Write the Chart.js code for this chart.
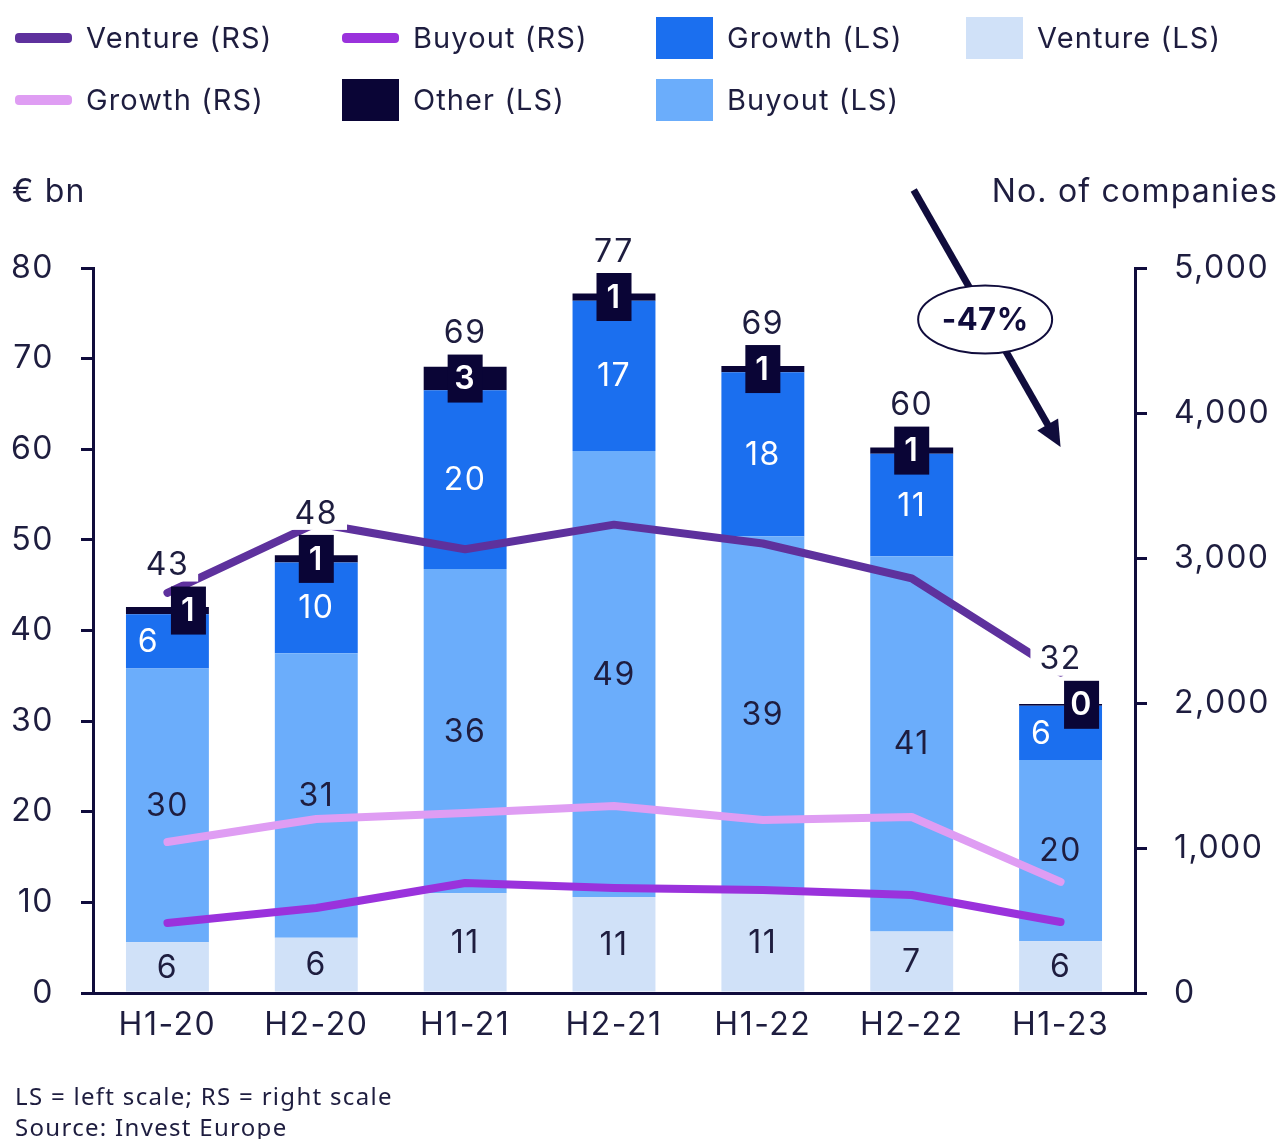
<!DOCTYPE html>
<html>
<head>
<meta charset="utf-8">
<script src="https://cdn.jsdelivr.net/npm/chart.js@4.4.1/dist/chart.umd.min.js"></script>
<style>
  html, body { margin: 0; padding: 0; background: #fff; }
  #wrap { position: relative; width: 1282px; height: 1139px; overflow: hidden;
          font-family: Inter, "Noto Sans", sans-serif; color: #1e1d3f; }
  #chart { position: absolute; left: 0; top: 0; }
  .txt { position: absolute; white-space: nowrap; line-height: 1; letter-spacing: 1.2px; }
  .lg-item { position: absolute; height: 44px; display: flex; align-items: center; }
  .lg-sw { position: absolute; left: 0; }
  .lg-label { position: absolute; left: 71px; font-size: 29px; letter-spacing: 1.1px; white-space: nowrap; line-height: 1; }
  .foot { position: absolute; left: 15px; font-family: "Noto Sans", sans-serif; font-size: 24px;
          letter-spacing: 1.3px; white-space: nowrap; line-height: 1; }
</style>
</head>
<body>
<div id="wrap">
  <canvas id="chart" width="1282" height="1139"></canvas>
  <div id="legend"></div>
  <div class="txt" style="left:12px; top:175px; font-size:32px;">€ bn</div>
  <div class="txt" style="right:4px; top:175px; font-size:32px;">No. of companies</div>
  <div class="foot" style="top:1084px;">LS = left scale; RS = right scale</div>
  <div class="foot" style="top:1115px;">Source: Invest Europe</div>
</div>
<script>
// Half-year periods
const categories = ['H1-20', 'H2-20', 'H1-21', 'H2-21', 'H1-22', 'H2-22', 'H1-23'];

// Amount invested, € bn (left scale)
const ventureLS = [5.6, 6.1, 11.0, 10.6, 11.0, 6.8, 5.7];
const buyoutLS  = [30.2, 31.4, 35.8, 49.2, 39.4, 41.4, 20.0];
const growthLS  = [6.0, 10.0, 19.7, 16.6, 18.1, 11.3, 6.0];
const otherLS   = [0.8, 0.8, 2.6, 0.8, 0.7, 0.7, 0.2];

// Number of companies (right scale)
const ventureRS = [2760, 3240, 3060, 3230, 3100, 2860, 2210];
const buyoutRS  = [483, 586, 759, 724, 710, 676, 490];
const growthRS  = [1041, 1200, 1241, 1290, 1193, 1214, 766];

// Axis ranges
const leftMax = 80, leftStep = 10;
const rightMax = 5000, rightStep = 1000;

// Change in total amount, last two periods
const changeLabel = '-47%';

const NAVY = '#100c3c';
const TEXT = '#1e1d3f';
const FONT = 'Inter, "Noto Sans", sans-serif';
const SPACING = '1.5px';
const FS = 32;

const C = {
  ventureRS: '#5e319d',
  buyoutRS: '#9a32dc',
  growthRS: '#df9df3',
  growthLS: '#1b6fef',
  buyoutLS: '#6badfb',
  ventureLS: '#d0e1f8',
  otherLS: '#0a0536'
};

Chart.defaults.font.family = FONT;
Chart.defaults.font.size = FS;
Chart.defaults.color = TEXT;

const lineDs = (label, data, color) => ({
  type: 'line', label, data, yAxisID: 'y1', order: 0,
  borderColor: color, backgroundColor: color, borderWidth: 8,
  pointRadius: 0, tension: 0, borderCapStyle: 'round', borderJoinStyle: 'round',
  legendKind: 'line'
});
const barDs = (label, data, color) => ({
  type: 'bar', label, data, yAxisID: 'y', order: 1, stack: 'total',
  backgroundColor: color, borderWidth: 0,
  categoryPercentage: 1, barPercentage: 0.557,
  legendKind: 'box'
});

const datasets = [
  lineDs('Venture (RS)', ventureRS, C.ventureRS),
  lineDs('Buyout (RS)', buyoutRS, C.buyoutRS),
  lineDs('Growth (RS)', growthRS, C.growthRS),
  barDs('Venture (LS)', ventureLS, C.ventureLS),
  barDs('Buyout (LS)', buyoutLS, C.buyoutLS),
  barDs('Growth (LS)', growthLS, C.growthLS),
  barDs('Other (LS)', otherLS, C.otherLS)
];

// Letter spacing applied to all canvas text
const spacingPlugin = {
  id: 'spacing',
  beforeInit(chart) { chart.ctx.letterSpacing = SPACING; },
  beforeUpdate(chart) { chart.ctx.letterSpacing = SPACING; },
  beforeDraw(chart) { chart.ctx.letterSpacing = SPACING; }
};

// Segment values, boxed "Other" values and stack totals
const labelPlugin = {
  id: 'segmentLabels',
  afterDatasetsDraw(chart) {
    const ctx = chart.ctx;
    const idx = name => chart.data.datasets.findIndex(d => d.label === name);
    const mV = chart.getDatasetMeta(idx('Venture (LS)'));
    const mB = chart.getDatasetMeta(idx('Buyout (LS)'));
    const mG = chart.getDatasetMeta(idx('Growth (LS)'));
    const mO = chart.getDatasetMeta(idx('Other (LS)'));
    const half = 14, boxW = 35, boxH = 48;
    ctx.save();
    ctx.letterSpacing = SPACING;
    ctx.textAlign = 'center';
    ctx.textBaseline = 'middle';
    categories.forEach((_, i) => {
      const v = mV.data[i], b = mB.data[i], g = mG.data[i], o = mO.data[i];
      ctx.font = `400 ${FS}px ${FONT}`;
      ctx.fillStyle = TEXT;
      ctx.fillText(String(Math.round(ventureLS[i])), v.x, (v.y + v.base) / 2 + 1);
      ctx.fillText(String(Math.round(buyoutLS[i])), b.x, (b.y + b.base) / 2 + 1);

      const gy = (g.y + g.base) / 2;
      const oy = (o.y + o.base) / 2;
      const crowded = oy + boxH / 2 > gy - half - 2;
      const gx = crowded ? g.x - 19 : g.x;
      const ox = crowded ? o.x + 21 : o.x;
      ctx.fillStyle = '#ffffff';
      ctx.fillText(String(Math.round(growthLS[i])), gx, gy + 1);

      ctx.fillStyle = C.otherLS;
      ctx.fillRect(ox - boxW / 2, oy - boxH / 2, boxW, boxH);
      ctx.font = `600 ${FS}px ${FONT}`;
      ctx.fillStyle = '#ffffff';
      ctx.fillText(String(Math.round(otherLS[i])), ox, oy + 1);

      const total = ventureLS[i] + buyoutLS[i] + growthLS[i] + otherLS[i];
      const t = String(Math.round(total));
      ctx.font = `400 ${FS}px ${FONT}`;
      const w = ctx.measureText(t).width + 18;
      const ty = oy - 46;
      ctx.fillStyle = '#ffffff';
      ctx.fillRect(o.x - w / 2, ty - 16, w, 33);
      ctx.fillStyle = TEXT;
      ctx.fillText(t, o.x, ty + 1);
    });
    ctx.restore();
  }
};

// Downward arrow with the change badge between the last two periods
const arrowPlugin = {
  id: 'changeArrow',
  afterDraw(chart) {
    const ctx = chart.ctx;
    const xs = chart.scales.x;
    const top = chart.chartArea.top;
    const x0 = xs.getPixelForValue(categories.length - 2) + 2;
    const y0 = top - 78;
    const x1 = xs.getPixelForValue(categories.length - 1);
    const y1 = top + 179;
    const ang = Math.atan2(y1 - y0, x1 - x0);
    const head = 26, hw = 12;
    const bx = x1 - head * Math.cos(ang), by = y1 - head * Math.sin(ang);
    ctx.save();
    ctx.strokeStyle = NAVY;
    ctx.fillStyle = NAVY;
    ctx.lineWidth = 7;
    ctx.beginPath();
    ctx.moveTo(x0, y0);
    ctx.lineTo(bx + 2 * Math.cos(ang), by + 2 * Math.sin(ang));
    ctx.stroke();
    ctx.beginPath();
    ctx.moveTo(x1, y1);
    ctx.lineTo(bx + hw * Math.sin(ang), by - hw * Math.cos(ang));
    ctx.lineTo(bx - hw * Math.sin(ang), by + hw * Math.cos(ang));
    ctx.closePath();
    ctx.fill();

    const cx = (x0 + x1) / 2 - 2, cy = (y0 + y1) / 2 + 1;
    ctx.beginPath();
    ctx.ellipse(cx, cy, 67, 34, 0, 0, Math.PI * 2);
    ctx.fillStyle = '#ffffff';
    ctx.fill();
    ctx.lineWidth = 2;
    ctx.stroke();
    ctx.fillStyle = NAVY;
    ctx.font = `700 31px ${FONT}`;
    ctx.letterSpacing = '0.5px';
    ctx.textAlign = 'center';
    ctx.textBaseline = 'middle';
    ctx.fillText(changeLabel, cx, cy + 1);
    ctx.restore();
  }
};

const chart = new Chart(document.getElementById('chart'), {
  data: { labels: categories, datasets },
  options: {
    responsive: false,
    animation: false,
    devicePixelRatio: 1,
    layout: { padding: { top: 268, left: 0, right: 0, bottom: 0 } },
    plugins: { legend: { display: false }, tooltip: { enabled: false } },
    scales: {
      x: {
        stacked: true,
        offset: true,
        grid: { display: false, drawTicks: false },
        border: { display: true, color: NAVY, width: 3 },
        ticks: { color: TEXT, font: { size: FS }, padding: 13, maxRotation: 0 },
        afterFit(s) { s.height = 146; }
      },
      y: {
        position: 'left',
        stacked: true,
        min: 0, max: leftMax,
        ticks: { stepSize: leftStep, color: TEXT, font: { size: FS }, padding: 27 },
        grid: { drawOnChartArea: false, drawTicks: true, tickLength: 12, color: NAVY, lineWidth: 3 },
        border: { display: true, color: NAVY, width: 3 },
        afterFit(s) { s.width = 93; }
      },
      y1: {
        position: 'right',
        min: 0, max: rightMax,
        ticks: { stepSize: rightStep, color: TEXT, font: { size: FS }, padding: 27,
                 callback: v => Number(v).toLocaleString('en-US') },
        grid: { drawOnChartArea: false, drawTicks: true, tickLength: 12, color: NAVY, lineWidth: 3 },
        border: { display: true, color: NAVY, width: 3 },
        afterFit(s) { s.width = 147; }
      }
    }
  },
  plugins: [spacingPlugin, labelPlugin, arrowPlugin]
});

// Legend built from the chart's datasets
const legendRows = [
  ['Venture (RS)', 'Buyout (RS)', 'Growth (LS)', 'Venture (LS)'],
  ['Growth (RS)', 'Other (LS)', 'Buyout (LS)']
];
const legendCols = [15, 342, 656, 966];
const legendRowY = [38, 100];
const legendEl = document.getElementById('legend');
legendRows.forEach((row, r) => {
  row.forEach((name, c) => {
    const ds = chart.data.datasets.find(d => d.label === name);
    const item = document.createElement('div');
    item.className = 'lg-item';
    item.style.left = legendCols[c] + 'px';
    item.style.top = (legendRowY[r] - 22) + 'px';
    const sw = document.createElement('div');
    sw.className = 'lg-sw';
    if (ds.legendKind === 'line') {
      sw.style.cssText = `left:0;top:17px;width:57px;height:10px;border-radius:4px;background:${ds.borderColor};`;
    } else {
      sw.style.cssText = `left:0;top:1px;width:57px;height:42px;background:${ds.backgroundColor};`;
    }
    const lb = document.createElement('div');
    lb.className = 'lg-label';
    lb.style.top = '7px';
    lb.textContent = name;
    item.appendChild(sw);
    item.appendChild(lb);
    legendEl.appendChild(item);
  });
});
</script>
</body>
</html>
